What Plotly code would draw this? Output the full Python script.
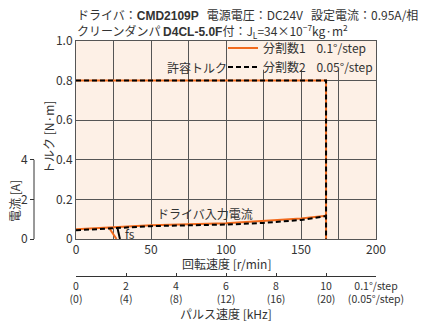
import plotly.graph_objects as go

# Torque curves (speed r/min, torque N·m)
speed_torque = [0, 166.7, 166.7]
torque_div1 = [0.8, 0.8, 0]
torque_div2 = [0.8, 0.8, 0]

# Driver input current (speed r/min, current A)
speed_current = [0, 25, 50, 100, 125, 150, 166.7]
current_div1 = [0.49, 0.58, 0.69, 0.79, 0.91, 1.04, 1.18]
current_div2 = [0.44, 0.54, 0.65, 0.73, 0.81, 0.96, 1.16]

# fs (start frequency) drop lines
fs_speed_div1 = [22, 24.5, 27]
fs_current_div1 = [0.57, 0.3, 0]
fs_speed_div2 = [27.5, 29.3]
fs_current_div2 = [0.6, 0]

# axis ticks
speed_ticks = [0, 50, 100, 150, 200]
speed_minor = [25, 75, 125, 175]
torque_ticks = [0, 0.2, 0.4, 0.6, 0.8, 1.0]
torque_text = ["0", "0.2", "0.4", "0.6", "0.8", "1.0"]
current_ticks = [0, 2, 4]
pulse_vals = [0, 2, 4, 6, 8, 10, 12]
pulse_text = ["0<br>(0)", "2<br>(4)", "4<br>(8)", "6<br>(12)", "8<br>(16)", "10<br>(20)",
              "0.1°/step<br>(0.05°/step)"]

ORANGE = "#f26a1c"
BG = "#fdf0e6"
GRID = "#555555"
FONT = "Liberation Sans Narrow, Arial Narrow, Noto Sans CJK JP, sans-serif"

fig = go.Figure()

fig.add_trace(go.Scatter(x=speed_current, y=current_div1, yaxis="y2", mode="lines",
                         line=dict(color=ORANGE, width=2), showlegend=False))
fig.add_trace(go.Scatter(x=fs_speed_div1, y=fs_current_div1, yaxis="y2", mode="lines",
                         line=dict(color=ORANGE, width=2), showlegend=False))
fig.add_trace(go.Scatter(x=speed_current, y=current_div2, yaxis="y2", mode="lines",
                         line=dict(color="black", width=2, dash="5px,3px"), showlegend=False))
fig.add_trace(go.Scatter(x=fs_speed_div2, y=fs_current_div2, yaxis="y2", mode="lines",
                         line=dict(color="black", width=2), showlegend=False))

fig.add_trace(go.Scatter(x=speed_torque, y=torque_div1, mode="lines",
                         line=dict(color=ORANGE, width=2),
                         name="分割数1\u00a0\u00a0\u00a0 0.1°/step"))
fig.add_trace(go.Scatter(x=speed_torque, y=torque_div2, mode="lines",
                         line=dict(color="black", width=2, dash="5px,3px"),
                         name="分割数2\u00a0\u00a0\u00a0 0.05°/step"))

# dummy trace so the pulse-speed axis gets drawn
fig.add_trace(go.Scatter(x=[0, 12], y=[None, None], xaxis="x2", mode="lines",
                         showlegend=False, hoverinfo="skip"))

x_dom = [76 / 376, 1]
y_dom = [84 / 282, 1]
y2_pos = 34 / 376

fig.update_layout(
    template="none",
    width=426, height=323,
    margin=dict(l=0, r=50, t=41, b=0),
    paper_bgcolor="white",
    plot_bgcolor=BG,
    font=dict(family=FONT, size=12, color="#333333"),
    showlegend=True,
    legend=dict(x=223 / 376, y=1.027, xanchor="left", yanchor="top",
                bgcolor="rgba(0,0,0,0)", borderwidth=0,
                font=dict(size=12, color="#333333"), itemwidth=30, tracegroupgap=0),
    xaxis=dict(domain=x_dom, range=[0, 200], tickvals=speed_ticks,
               showgrid=True, gridcolor=GRID, gridwidth=1, showline=True, mirror=True,
               linecolor=GRID, linewidth=1, ticks="", zeroline=False, automargin=False,
               minor=dict(tickvals=speed_minor, showgrid=True, gridcolor=GRID, gridwidth=1,
                          ticks=""),
               tickfont=dict(size=12)),
    yaxis=dict(domain=y_dom, range=[0, 1], tickvals=torque_ticks, ticktext=torque_text,
               showgrid=True, gridcolor=GRID, gridwidth=1, showline=True, mirror=True,
               linecolor=GRID, linewidth=1, ticks="", zeroline=False, automargin=False,
               tickfont=dict(size=12)),
    # current axis: 4 A lines up with 0.4 N·m
    yaxis2=dict(overlaying="y", range=[0, 10], anchor="free", position=y2_pos, side="left",
                tickvals=current_ticks, ticks="outside", ticklen=4, tickcolor="#333333",
                showline=False, showgrid=False, zeroline=False, automargin=False,
                tickfont=dict(size=12)),
    xaxis2=dict(overlaying="x", anchor="free", position=47 / 282, side="bottom",
                range=[0, 12], tickvals=pulse_vals, ticktext=pulse_text,
                ticks="inside", ticklen=3, tickcolor="#333333", showline=True,
                linecolor="#333333", linewidth=1, showgrid=False, zeroline=False,
                automargin=False, tickfont=dict(size=10.5)),
)

shapes = [
    # current axis spine (0 to 4 A only)
    dict(type="line", xref="paper", yref="y2", x0=y2_pos, x1=y2_pos, y0=0, y1=4,
         line=dict(color="#333333", width=1), layer="above"),
    # legend backdrop hiding the grid behind it
    dict(type="rect", xref="x", yref="y", x0=101.5, x1=200, y0=0.855, y1=1,
         fillcolor=BG, line=dict(width=0), layer="between"),
]
fig.update_layout(shapes=shapes)

annotations = [
    dict(text="ドライバ：<span style=\"font-family:Liberation Sans;font-weight:bold\">CMD2109P</span>"
              "\u00a0\u00a0 電源電圧：DC24V\u00a0\u00a0 設定電流：0.95A/相",
         xref="paper", yref="paper", x=75 / 376, y=(323 - 14) / 282,
         xanchor="left", yanchor="middle", font=dict(size=12)),
    dict(text="クリーンダンパ <span style=\"font-family:Liberation Sans;font-weight:bold\">D4CL-5.0F</span>"
              "付：J<sub>L</sub>=34×10<sup>−7</sup>kg·m<sup>2</sup>",
         xref="paper", yref="paper", x=75 / 376, y=(323 - 31) / 282,
         xanchor="left", yanchor="middle", font=dict(size=12)),
    dict(text="トルク [N·m]", xref="paper", yref="paper", x=48 / 376, y=(323 - 137) / 282,
         textangle=-90, xanchor="center", yanchor="middle", font=dict(size=12)),
    dict(text="電流 [A]", xref="paper", yref="paper", x=15 / 376, y=(323 - 201) / 282,
         textangle=-90, xanchor="center", yanchor="middle", font=dict(size=12)),
    dict(text="回転速度 [r/min]", xref="x", yref="paper", x=100, y=(323 - 263) / 282,
         xanchor="center", yanchor="middle", font=dict(size=12)),
    dict(text="パルス速度 [kHz]", xref="x", yref="paper", x=100, y=(323 - 313) / 282,
         xanchor="center", yanchor="middle", font=dict(size=12)),
    dict(text="許容トルク", xref="x", yref="y", x=80.7, y=0.864,
         xanchor="center", yanchor="middle", font=dict(size=12)),
    dict(text="ドライバ入力電流", xref="x", yref="y", x=86, y=0.131,
         xanchor="center", yanchor="middle", font=dict(size=12)),
    dict(text="fs", xref="x", yref="y", x=35.7, y=0.03,
         xanchor="center", yanchor="middle", font=dict(size=12)),
]
for a in annotations:
    a["showarrow"] = False
fig.update_layout(annotations=annotations)

fig.write_html("out.html", config={"displayModeBar": False},
               post_script="document.body.style.margin='0px';")
